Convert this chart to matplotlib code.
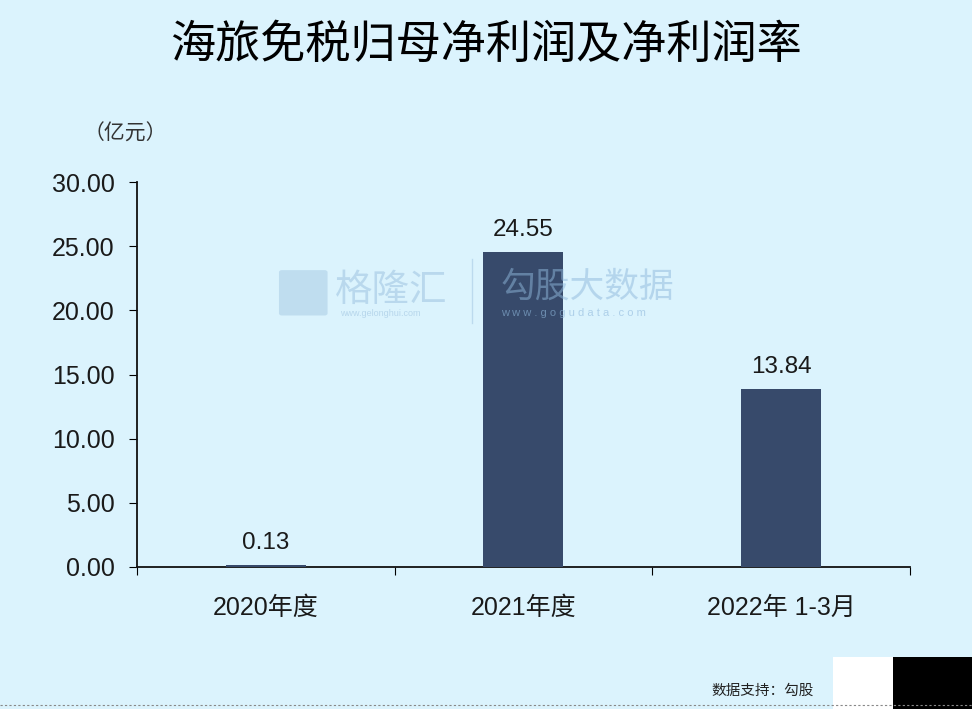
import matplotlib
matplotlib.use("Agg")
from matplotlib import pyplot as plt
from matplotlib.patches import Rectangle, FancyBboxPatch

plt.rcParams['font.family'] = ['Liberation Sans', 'Noto Sans CJK SC', 'DejaVu Sans']

categories = ['2020年度', '2021年度', '2022年 1-3月']
profit = [0.13, 24.55, 13.84]
labels = ['0.13', '24.55', '13.84']
yticks = [0, 5, 10, 15, 20, 25, 30]

bg = '#dbf3fd'
bar_color = '#374a6b'
txt = '#1a1a1a'

fig = plt.figure(figsize=(9.72, 7.09), dpi=100, facecolor=bg)
ax = fig.add_axes([0.141, 0.2003, 0.795, 0.5427], facecolor=bg)

x = list(range(len(categories)))
ax.bar(x, profit, width=0.31, color=bar_color, zorder=3)
for xi, v, t in zip(x, profit, labels):
    ax.text(xi, v + 0.9, t, ha='center', va='bottom', fontsize=17.5, color=txt, zorder=4)

ax.set_xlim(-0.5, 2.5)
ax.set_ylim(0, 30)
ax.set_yticks(yticks)
ax.set_yticklabels(['%.2f' % t for t in yticks], fontsize=18, color=txt)

# category labels centred, tick marks at boundaries
ax.set_xticks([-0.5, 0.5, 1.5, 2.5])
ax.set_xticklabels([])
ax.set_xticks(x, minor=True)
ax.set_xticklabels(categories, minor=True, fontsize=18, color=txt)
ax.tick_params(axis='x', which='minor', length=0, pad=21)
ax.tick_params(axis='x', which='major', length=6, direction='out')
ax.tick_params(axis='y', length=6, direction='out', pad=10)

for s in ['top', 'right']:
    ax.spines[s].set_visible(False)
for s in ['left', 'bottom']:
    ax.spines[s].set_color('#111111')
    ax.spines[s].set_linewidth(1.3)

fig.text(0.5, 0.937, '海旅免税归母净利润及净利润率', ha='center', va='center',
         fontsize=32.5, color='#000000', family=['Noto Sans CJK SC'], weight='medium')
fig.text(0.129, 0.812, '（亿元）', ha='center', va='center', fontsize=15, color='#333333',
         family=['Noto Sans CJK SC'])

# watermark
fig.text(0.345, 0.59, '格隆汇', ha='left', va='center', fontsize=27, color='#9ec3e0', alpha=0.55,
         family=['Noto Sans CJK SC'])
fig.text(0.35, 0.558, 'www.gelonghui.com', ha='left', va='center', fontsize=6.5, color='#9ec3e0', alpha=0.6)
fig.add_artist(FancyBboxPatch((0.29, 0.558), 0.044, 0.058, boxstyle='round,pad=0.003',
                              transform=fig.transFigure, color='#9ec3e0', alpha=0.45, lw=0))
fig.add_artist(plt.Line2D([0.486, 0.486], [0.545, 0.635], transform=fig.transFigure,
                          color='#9ec3e0', alpha=0.5, lw=1))
fig.text(0.515, 0.595, '勾股大数据', ha='left', va='center', fontsize=25, color='#8fb8dc', alpha=0.5,
         family=['Noto Sans CJK SC'])
fig.text(0.515, 0.558, 'w w w . g o g u d a t a . c o m', ha='left', va='center', fontsize=8,
         color='#8fb8dc', alpha=0.6)

# footer
fig.text(0.732, 0.025, '数据支持：勾股', ha='left', va='center', fontsize=10.5, color='#222222',
         family=['Noto Sans CJK SC'], weight='medium')
fig.add_artist(Rectangle((0.857, 0.0), 0.062, 0.073, transform=fig.transFigure,
                         color='white', lw=0))
fig.add_artist(Rectangle((0.919, 0.0), 0.081, 0.073, transform=fig.transFigure,
                         color='black', lw=0))
fig.add_artist(plt.Line2D([0, 1], [0.005, 0.005], transform=fig.transFigure,
                          color='#888888', lw=0.8, ls=(0, (2, 2))))

fig.savefig('out.png', dpi=100, facecolor=bg)
